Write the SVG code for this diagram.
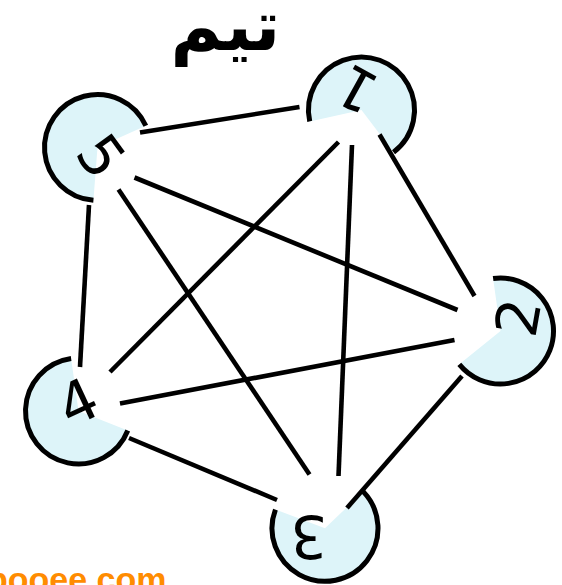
<svg xmlns="http://www.w3.org/2000/svg" width="562" height="585" viewBox="0 0 562 585">
<style>
.fill{fill:#DDF4F9;stroke:none}
.arc{fill:none;stroke:#000;stroke-width:5}
.num{font-family:"DejaVu Sans",sans-serif;font-size:58px;fill:#000;text-anchor:middle}
.edge{stroke:#000;stroke-width:4.6;fill:none}
</style>
<rect width="562" height="585" fill="#fff"/>
<g id="title"><text x="225.5" y="50" font-family="DejaVu Sans, sans-serif" font-weight="bold" font-size="70" text-anchor="middle" fill="#000">تيم</text></g>
<g id="node1">
<path class="fill" d="M361.5,110 L309.73,121.38 A53,53 0 1 1 393.54,152.21 Z"/>
<path class="arc" d="M309.73,121.38 A53,53 0 1 1 393.54,152.21"/>
<text class="num" transform="translate(356.5,89.5) rotate(-151)" y="21">1</text>
</g>
<g id="node2">
<path class="fill" d="M500.5,331 L493.12,278.52 A53,53 0 1 1 459.31,364.35 Z"/>
<path class="arc" d="M493.12,278.52 A53,53 0 1 1 459.31,364.35"/>
<text class="num" transform="translate(517.5,317.5) rotate(-80)" y="21">2</text>
</g>
<g id="node3">
<path class="fill" d="M325,528.3 L363.26,491.62 A53,53 0 1 1 275.42,509.57 Z"/>
<path class="arc" d="M363.26,491.62 A53,53 0 1 1 275.42,509.57"/>
<text class="num" transform="translate(308.7,536.7) rotate(180)" y="21">3</text>
</g>
<g id="node4">
<path class="fill" d="M78.5,411 L127.78,430.51 A53,53 0 1 1 71.12,358.52 Z"/>
<path class="arc" d="M127.78,430.51 A53,53 0 1 1 71.12,358.52"/>
<text class="num" transform="translate(77.5,401.7) rotate(-25)" y="21">4</text>
</g>
<g id="node5">
<path class="fill" d="M97.5,147.5 L93.43,200.35 A53,53 0 1 1 145.8,125.69 Z"/>
<path class="arc" d="M93.43,200.35 A53,53 0 1 1 145.8,125.69"/>
<text class="num" transform="translate(101.7,155.8) rotate(54)" y="21">5</text>
</g>
<g id="connectors" class="edge">
<line x1="140" y1="132.5" x2="299.5" y2="107"/>
<line x1="134.5" y1="177.5" x2="457.5" y2="310"/>
<line x1="118.5" y1="189.5" x2="309.5" y2="474.5"/>
<line x1="89" y1="205" x2="80" y2="367"/>
<line x1="338.5" y1="142" x2="110" y2="372"/>
<line x1="352" y1="145" x2="338.5" y2="476"/>
<line x1="379.5" y1="134.5" x2="474.5" y2="296"/>
<line x1="120" y1="403.5" x2="454.5" y2="340"/>
<line x1="129" y1="438" x2="277" y2="500"/>
<line x1="462" y1="376" x2="347" y2="508"/>
</g>
<g id="footer"><text x="-13" y="591" font-family="Liberation Sans, Arial, sans-serif" font-weight="bold" font-size="34" fill="#FF8C00">pooee.com</text></g>
</svg>
